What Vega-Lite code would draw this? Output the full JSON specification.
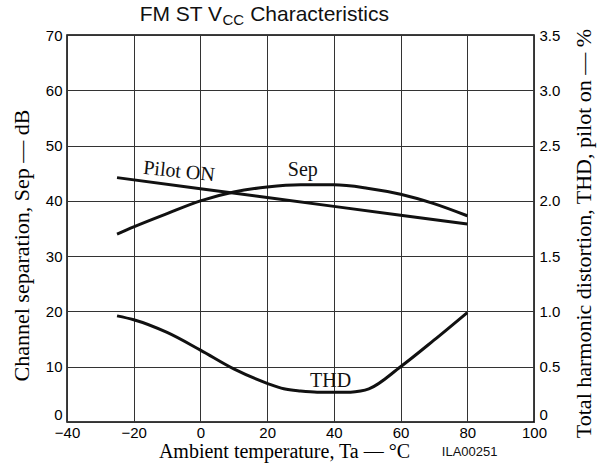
{
  "$schema": "https://vega.github.io/schema/vega-lite/v6.json",
  "width": 467,
  "height": 387,
  "autosize": {"type": "none"},
  "padding": {"left": 67, "top": 35, "right": 68, "bottom": 47},
  "background": "white",
  "config": {
    "view": {"stroke": "#000", "strokeWidth": 1.5},
    "axis": {
      "labelFont": "Liberation Sans",
      "labelFontSize": 15,
      "labelColor": "#000",
      "labelFlush": false,
      "labelOverlap": false,
      "ticks": false,
      "domain": false,
      "gridColor": "#333",
      "gridWidth": 1,
      "gridOpacity": 1,
      "titleFont": "Liberation Serif",
      "titleFontWeight": "normal",
      "titleColor": "#000"
    }
  },
  "datasets": {
    "sep": [
      {"temp": -25, "value": 34.0, "series": "Sep"},
      {"temp": -20, "value": 35.3, "series": "Sep"},
      {"temp": -10, "value": 37.7, "series": "Sep"},
      {"temp": 0, "value": 40.0, "series": "Sep"},
      {"temp": 10, "value": 41.6, "series": "Sep"},
      {"temp": 20, "value": 42.5, "series": "Sep"},
      {"temp": 30, "value": 42.9, "series": "Sep"},
      {"temp": 40, "value": 42.9, "series": "Sep"},
      {"temp": 50, "value": 42.3, "series": "Sep"},
      {"temp": 60, "value": 41.2, "series": "Sep"},
      {"temp": 70, "value": 39.5, "series": "Sep"},
      {"temp": 80, "value": 37.3, "series": "Sep"},
      {"temp": -25, "value": 44.2, "series": "Pilot ON"},
      {"temp": 0, "value": 42.2, "series": "Pilot ON"},
      {"temp": 40, "value": 39.0, "series": "Pilot ON"},
      {"temp": 80, "value": 35.8, "series": "Pilot ON"}
    ],
    "thd": [
      {"temp": -25, "thd": 0.96},
      {"temp": -20, "thd": 0.925},
      {"temp": -10, "thd": 0.81},
      {"temp": 0, "thd": 0.65},
      {"temp": 10, "thd": 0.48},
      {"temp": 20, "thd": 0.35},
      {"temp": 25, "thd": 0.30},
      {"temp": 30, "thd": 0.28},
      {"temp": 35, "thd": 0.27},
      {"temp": 40, "thd": 0.27},
      {"temp": 45, "thd": 0.27},
      {"temp": 48, "thd": 0.28},
      {"temp": 50.5, "thd": 0.30},
      {"temp": 60, "thd": 0.50},
      {"temp": 70, "thd": 0.74},
      {"temp": 80, "thd": 0.99}
    ],
    "notes": [
      {"label": "note"}
    ]
  },
  "layer": [
    {
      "data": {"name": "sep"},
      "mark": {"type": "line", "color": "#111", "strokeWidth": 3, "interpolate": "monotone"},
      "encoding": {
        "x": {
          "field": "temp",
          "type": "quantitative",
          "scale": {"domain": [-40, 100], "nice": false, "zero": false},
          "axis": {
            "values": [-40, -20, 0, 20, 40, 60, 80, 100],
            "grid": true,
            "labelPadding": 3,
            "title": "Ambient temperature, Ta — °C",
            "titleFontSize": 20,
            "titleX": 217,
            "titleY": 35,
            "titleBaseline": "alphabetic",
            "titleAlign": "center"
          }
        },
        "y": {
          "field": "value",
          "type": "quantitative",
          "scale": {"domain": [0, 70], "nice": false},
          "axis": {
            "orient": "left",
            "values": [0, 10, 20, 30, 40, 50, 60, 70],
            "grid": true,
            "labelPadding": 5,
            "labelBaseline": {"condition": {"test": "datum.value == 0", "value": "bottom"}, "value": "middle"},
            "title": "Channel separation, Sep — dB",
            "titleFontSize": 22,
            "titleAngle": -90,
            "titleX": -39,
            "titleY": 210,
            "titleBaseline": "alphabetic",
            "titleAlign": "center"
          }
        },
        "detail": {"field": "series", "type": "nominal"}
      }
    },
    {
      "data": {"name": "thd"},
      "mark": {"type": "line", "color": "#111", "strokeWidth": 3, "interpolate": "monotone"},
      "encoding": {
        "x": {"field": "temp", "type": "quantitative"},
        "y": {
          "field": "thd",
          "type": "quantitative",
          "scale": {"domain": [0, 3.5], "nice": false},
          "axis": {
            "orient": "right",
            "values": [0, 0.5, 1, 1.5, 2, 2.5, 3, 3.5],
            "labelExpr": "datum.value == 0 ? '0' : format(datum.value, '.1f')",
            "labelBaseline": {"condition": {"test": "datum.value == 0", "value": "bottom"}, "value": "middle"},
            "grid": false,
            "labelPadding": 5,
            "title": "Total harmonic distortion, THD, pilot on — %",
            "titleFontSize": 22,
            "titleAngle": -90,
            "titleX": 56,
            "titleY": 198,
            "titleBaseline": "alphabetic",
            "titleAlign": "center"
          }
        }
      }
    },
    {
      "data": {"name": "notes"},
      "mark": {"type": "text", "font": "Liberation Serif", "fontSize": 20, "angle": 6, "color": "#111", "text": "Pilot ON"},
      "encoding": {
        "x": {"datum": -6.4, "type": "quantitative"},
        "y": {"datum": 45.3, "type": "quantitative", "scale": {"domain": [0, 70], "nice": false}, "axis": null}
      }
    },
    {
      "data": {"name": "notes"},
      "mark": {"type": "text", "font": "Liberation Serif", "fontSize": 20, "color": "#111", "text": "Sep"},
      "encoding": {
        "x": {"datum": 30.7, "type": "quantitative"},
        "y": {"datum": 45.5, "type": "quantitative", "scale": {"domain": [0, 70], "nice": false}, "axis": null}
      }
    },
    {
      "data": {"name": "notes"},
      "mark": {"type": "text", "font": "Liberation Serif", "fontSize": 20, "color": "#111", "text": "THD"},
      "encoding": {
        "x": {"datum": 39.0, "type": "quantitative"},
        "y": {"datum": 7.5, "type": "quantitative", "scale": {"domain": [0, 70], "nice": false}, "axis": null}
      }
    },
    {
      "data": {"name": "notes"},
      "mark": {"type": "text", "font": "Liberation Sans", "fontSize": 21, "align": "right", "baseline": "alphabetic", "color": "#111", "text": "FM ST V"},
      "encoding": {
        "x": {"datum": 6.5, "type": "quantitative"},
        "y": {"datum": 72.5, "type": "quantitative", "scale": {"domain": [0, 70], "nice": false}, "axis": null}
      }
    },
    {
      "data": {"name": "notes"},
      "mark": {"type": "text", "font": "Liberation Sans", "fontSize": 15, "align": "left", "baseline": "alphabetic", "color": "#111", "text": "CC"},
      "encoding": {
        "x": {"datum": 6.6, "type": "quantitative"},
        "y": {"datum": 71.8, "type": "quantitative", "scale": {"domain": [0, 70], "nice": false}, "axis": null}
      }
    },
    {
      "data": {"name": "notes"},
      "mark": {"type": "text", "font": "Liberation Sans", "fontSize": 21, "align": "left", "baseline": "alphabetic", "color": "#111", "text": "Characteristics"},
      "encoding": {
        "x": {"datum": 14.9, "type": "quantitative"},
        "y": {"datum": 72.5, "type": "quantitative", "scale": {"domain": [0, 70], "nice": false}, "axis": null}
      }
    },
    {
      "data": {"name": "notes"},
      "mark": {"type": "text", "font": "Liberation Sans", "fontSize": 13, "align": "center", "baseline": "middle", "color": "#111", "text": "ILA00251"},
      "encoding": {
        "x": {"datum": 80.7, "type": "quantitative"},
        "y": {"datum": -5.4, "type": "quantitative", "scale": {"domain": [0, 70], "nice": false}, "axis": null}
      }
    }
  ],
  "resolve": {"scale": {"y": "independent"}}
}
